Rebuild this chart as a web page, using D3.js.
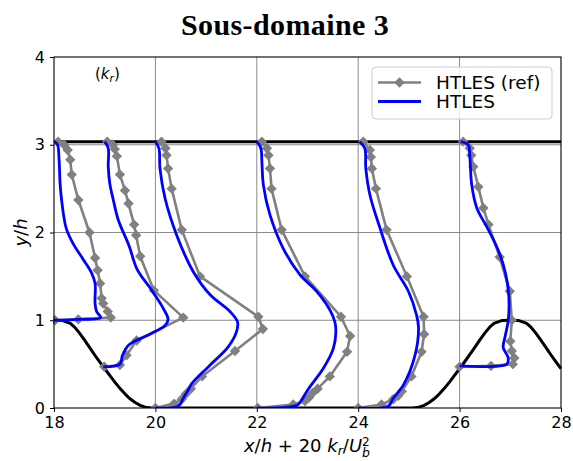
<!DOCTYPE html>
<html><head><meta charset="utf-8">
<script src="https://cdn.jsdelivr.net/npm/d3@7"></script>
<style>body{margin:0;background:#fff} svg{display:block}</style>
</head><body>
<svg id="c" width="573" height="461"></svg>
<script>
// ---------- data ----------
const xTicks = [18, 20, 22, 24, 26, 28];
const yTicks = [0, 1, 2, 3, 4];
const stations = [18, 19, 20, 22, 24, 26];
const wallY = 3.035;

// hill geometry (x/h + offset, y/h)
const hillX = [18.0,18.161,18.321,18.4,18.5,18.6,18.714,18.8,18.9,19.0,19.071,19.1,19.2,19.3,19.429,19.5,19.6,19.7,19.8,19.929,
  25.071,25.2,25.3,25.4,25.5,25.571,25.7,25.8,25.9,25.929,26.0,26.1,26.2,26.286,26.4,26.5,26.6,26.679,26.839,27.0,
  27.161,27.321,27.4,27.5,27.6,27.714,27.8,27.9,28.0];
const hillY = [1.0,0.998,0.964,0.925,0.857,0.776,0.679,0.607,0.527,0.448,0.393,0.371,0.295,0.224,0.143,0.105,0.062,0.030,0.010,0.0,
  0.0,0.010,0.030,0.062,0.105,0.143,0.224,0.295,0.371,0.393,0.448,0.527,0.607,0.679,0.776,0.857,0.925,0.964,0.998,1.0,
  0.998,0.964,0.925,0.857,0.776,0.679,0.607,0.527,0.448];

// HTLES (ref) profiles: [x/h + 20 k/U^2, y/h]
const ref1 = [[18.02,1.00],[18.48,1.01],[19.12,1.03],[19.06,1.10],[18.97,1.19],[18.94,1.25],[18.91,1.42],[18.86,1.57],[18.81,1.71],[18.70,2.00],[18.48,2.37],[18.35,2.66],[18.32,2.83],[18.27,2.94],[18.20,3.00],[18.08,3.035]];
const ref2 = [[18.99,0.47],[19.30,0.49],[19.43,0.60],[19.63,0.77],[20.55,1.03],[19.97,1.34],[19.70,1.73],[19.62,1.97],[19.58,2.09],[19.47,2.33],[19.40,2.48],[19.30,2.66],[19.24,2.87],[19.20,2.95],[19.16,3.00],[19.05,3.035]];
const ref3 = [[20.0,0.0],[20.37,0.05],[20.52,0.10],[20.6,0.16],[20.7,0.22],[20.92,0.36],[21.57,0.65],[22.12,0.90],[22.03,1.04],[20.88,1.50],[20.52,2.03],[20.32,2.50],[20.25,2.73],[20.22,2.88],[20.20,2.96],[20.12,3.035]];
const ref4 = [[22.02,0.0],[22.72,0.04],[22.95,0.08],[23.03,0.12],[23.1,0.17],[23.2,0.22],[23.44,0.36],[23.78,0.64],[23.84,0.82],[23.66,1.04],[22.95,1.50],[22.49,2.03],[22.29,2.50],[22.26,2.73],[22.23,2.88],[22.20,2.96],[22.10,3.035]];
const ref5 = [[24.0,0.0],[24.46,0.04],[24.69,0.10],[24.79,0.14],[24.86,0.19],[25.05,0.36],[25.25,0.64],[25.30,0.84],[25.29,1.04],[24.96,1.50],[24.56,2.03],[24.35,2.50],[24.27,2.73],[24.25,2.86],[24.23,2.94],[24.10,3.035]];
const ref6 = [[26.0,0.47],[26.62,0.48],[27.05,0.50],[27.08,0.57],[27.03,0.65],[27.0,0.76],[27.03,1.0],[26.99,1.33],[26.79,1.72],[26.57,2.09],[26.47,2.28],[26.37,2.52],[26.27,2.75],[26.23,2.88],[26.20,2.96],[26.07,3.035]];

// HTLES profiles
const les1 = [[18.0,1.0],[18.5,1.01],[18.92,1.03],[18.84,1.10],[18.81,1.19],[18.81,1.42],[18.74,1.54],[18.58,1.69],[18.38,1.87],[18.24,2.05],[18.15,2.37],[18.12,2.56],[18.1,2.83],[18.07,3.0],[18.01,3.035]];
const les2 = [[18.97,0.47],[19.30,0.50],[19.35,0.60],[19.48,0.72],[19.89,0.84],[20.19,0.94],[20.25,1.01],[20.16,1.13],[19.93,1.34],[19.64,1.58],[19.48,1.85],[19.27,2.14],[19.17,2.37],[19.1,2.56],[19.07,2.75],[19.07,2.96],[19.0,3.035]];
const les3 = [[20.0,0.0],[20.45,0.02],[20.55,0.11],[20.66,0.22],[20.72,0.28],[21.08,0.49],[21.44,0.70],[21.6,0.87],[21.62,0.98],[21.47,1.10],[21.08,1.29],[20.75,1.55],[20.42,1.97],[20.19,2.39],[20.09,2.73],[20.07,2.96],[20.0,3.035]];
const les4 = [[22.0,0.0],[22.79,0.03],[22.87,0.08],[23.02,0.22],[23.31,0.45],[23.51,0.68],[23.56,0.87],[23.54,0.98],[23.44,1.12],[23.18,1.33],[22.85,1.52],[22.52,1.82],[22.26,2.20],[22.13,2.54],[22.10,2.81],[22.08,2.96],[22.0,3.035]];
const les5 = [[24.0,0.0],[24.59,0.02],[24.69,0.11],[24.89,0.26],[25.12,0.60],[25.19,0.91],[25.15,1.06],[24.99,1.33],[24.69,1.63],[24.43,2.05],[24.23,2.43],[24.15,2.73],[24.13,2.96],[24.03,3.035]];
const les6 = [[26.0,0.48],[26.93,0.50],[26.96,0.57],[26.86,0.69],[26.9,0.82],[26.96,1.0],[26.97,1.28],[26.9,1.55],[26.76,1.8],[26.55,2.05],[26.34,2.28],[26.24,2.54],[26.2,2.88],[26.17,3.0],[26.02,3.035]];

const refProfiles = [ref1, ref2, ref3, ref4, ref5, ref6];
const lesProfiles = [les1, les2, les3, les4, les5, les6];
const legendLabels = ["HTLES (ref)", "HTLES"];
const titleText = "Sous-domaine 3";

// ---------- drawing ----------
const W = 573, H = 461;
const m = {l: 54, r: 12, t: 57, b: 53};
const svg = d3.select("#c");
const x = d3.scaleLinear().domain([18, 28]).range([m.l, W - m.r]);
const y = d3.scaleLinear().domain([0, 4]).range([H - m.b, m.t]);
const FONT = "DejaVu Sans, sans-serif";
const diamondPath = d3.symbol().type(d3.symbolSquare).size(54)();

svg.append("clipPath").attr("id", "clip").append("rect")
  .attr("x", x(18) - 1).attr("y", y(4)).attr("width", x(28) - x(18) + 2).attr("height", y(0) - y(4));

// grid
const grid = svg.append("g").attr("stroke", "#8a8a8a").attr("stroke-width", 1);
xTicks.slice(1, -1).forEach(t => grid.append("line").attr("x1", x(t)).attr("x2", x(t)).attr("y1", y(0)).attr("y2", y(4)));
yTicks.slice(1, -1).forEach(t => grid.append("line").attr("y1", y(t)).attr("y2", y(t)).attr("x1", x(18)).attr("x2", x(28)));

const plot = svg.append("g").attr("clip-path", "url(#clip)");

// walls
const hillPts = hillX.map((v, i) => [v, hillY[i]]);
const lineLin = d3.line().x(d => x(d[0])).y(d => y(d[1]));
plot.append("path").attr("d", lineLin(hillPts)).attr("fill", "none").attr("stroke", "#000").attr("stroke-width", 3);
plot.append("path").attr("d", lineLin([[18, wallY], [28, wallY]])).attr("fill", "none").attr("stroke", "#000").attr("stroke-width", 3);

// reference profiles
refProfiles.forEach(p => {
  plot.append("path").attr("d", lineLin(p)).attr("fill", "none").attr("stroke", "#808080").attr("stroke-width", 2.6).attr("stroke-linejoin", "round");
  plot.selectAll(null).data(p).enter().append("path")
    .attr("transform", d => `translate(${x(d[0])},${y(d[1])}) rotate(45)`)
    .attr("d", diamondPath)
    .attr("fill", "#808080");
});

// HTLES profiles
const lineSmooth = d3.line().x(d => x(d[0])).y(d => y(d[1])).curve(d3.curveCatmullRom.alpha(0.5));
lesProfiles.forEach(p => {
  plot.append("path").attr("d", lineSmooth(p)).attr("fill", "none").attr("stroke", "#0000ff").attr("stroke-width", 2.8).attr("stroke-linejoin", "round");
});

// axes
const ax = svg.append("g").attr("transform", `translate(0,${y(0)})`)
  .call(d3.axisBottom(x).tickValues(xTicks).tickFormat(d3.format("d")).tickSize(4).tickPadding(5));
const ay = svg.append("g").attr("transform", `translate(${x(18)},0)`)
  .call(d3.axisLeft(y).tickValues(yTicks).tickFormat(d3.format("d")).tickSize(4).tickPadding(5));
[ax, ay].forEach(a => {
  a.select(".domain").remove();
  a.selectAll("text").attr("font-family", FONT).attr("font-size", 16).attr("fill", "#000");
  a.selectAll("line").attr("stroke", "#000").attr("stroke-width", 1);
});
svg.append("rect").attr("x", x(18)).attr("y", y(4)).attr("width", x(28) - x(18)).attr("height", y(0) - y(4))
  .attr("fill", "none").attr("stroke", "#000").attr("stroke-width", 1.1);

// title
svg.append("text").attr("x", 285).attr("y", 35).attr("text-anchor", "middle")
  .attr("font-family", "Liberation Serif, serif").attr("font-weight", "bold").attr("font-size", 30)
  .attr("letter-spacing", 0.4)
  .text(titleText);

// annotation (k_r)
const ann = svg.append("text").attr("x", 95).attr("y", 79).attr("font-family", FONT).attr("font-size", 15);
ann.append("tspan").text("(");
ann.append("tspan").attr("font-style", "italic").text("k");
ann.append("tspan").attr("font-style", "italic").attr("font-size", 10.5).attr("dy", 3).text("r");
ann.append("tspan").attr("dy", -3).text(")");

// x label
const xl = svg.append("text").attr("x", 307).attr("y", 452).attr("text-anchor", "middle").attr("font-family", FONT).attr("font-size", 18);
xl.append("tspan").attr("font-style", "italic").text("x");
xl.append("tspan").text("/");
xl.append("tspan").attr("font-style", "italic").text("h");
xl.append("tspan").text(" + 20 ");
xl.append("tspan").attr("font-style", "italic").text("k");
xl.append("tspan").attr("font-style", "italic").attr("font-size", 12.5).attr("dy", 3).text("r");
xl.append("tspan").attr("dy", -3).text("/");
xl.append("tspan").attr("font-style", "italic").text("U");
xl.append("tspan").attr("font-style", "italic").attr("font-size", 12.5).attr("dy", 5).text("b");
xl.append("tspan").attr("font-size", 12).attr("dx", -8).attr("dy", -11).text("2");

// y label
const yl = svg.append("text").attr("transform", `translate(27,${(y(0) + y(4)) / 2}) rotate(-90)`)
  .attr("text-anchor", "middle").attr("font-family", FONT).attr("font-size", 18);
yl.append("tspan").attr("font-style", "italic").text("y");
yl.append("tspan").text("/");
yl.append("tspan").attr("font-style", "italic").text("h");

// legend
const lg = svg.append("g");
lg.append("rect").attr("x", 372).attr("y", 67).attr("width", 180).attr("height", 52).attr("rx", 4)
  .attr("fill", "#fff").attr("fill-opacity", 0.8).attr("stroke", "#cccccc").attr("stroke-width", 1);
const legY = [82.5, 101.5];
lg.append("line").attr("x1", 378).attr("x2", 421).attr("y1", legY[0]).attr("y2", legY[0]).attr("stroke", "#808080").attr("stroke-width", 2.6);
lg.append("path").attr("transform", `translate(399.5,${legY[0]}) rotate(45)`).attr("d", diamondPath).attr("fill", "#808080");
lg.append("line").attr("x1", 378).attr("x2", 421).attr("y1", legY[1]).attr("y2", legY[1]).attr("stroke", "#0000ff").attr("stroke-width", 2.8);
legendLabels.forEach((t, i) => lg.append("text").attr("x", 436).attr("y", legY[i] + 6.5)
  .attr("font-family", FONT).attr("font-size", 18.5).text(t));
</script>
</body></html>
